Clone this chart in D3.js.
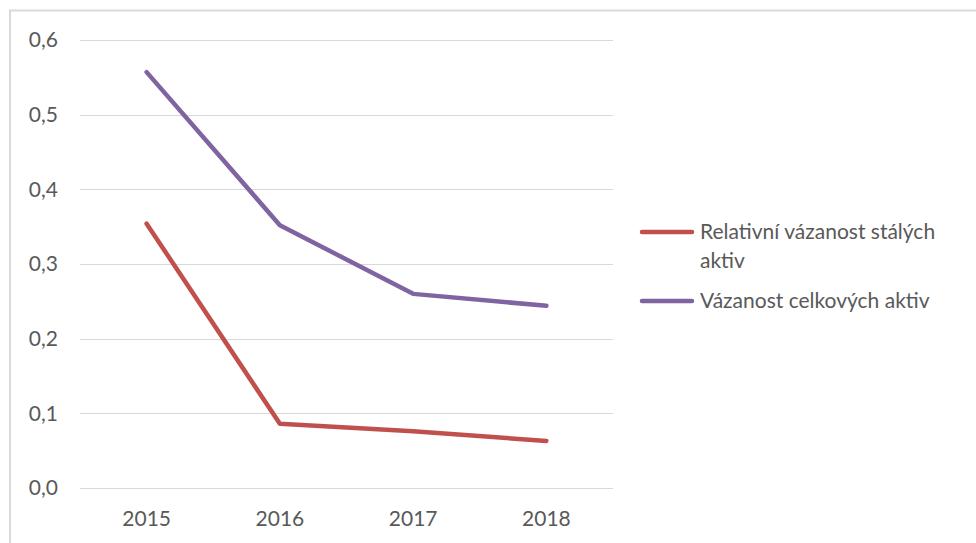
<!DOCTYPE html>
<html>
<head>
<meta charset="utf-8">
<script src="https://cdn.jsdelivr.net/npm/d3@7"></script>
<style>
  html, body { margin: 0; padding: 0; background: #fff; }
  svg { display: block; }
  text { font-family: Lato, "Open Sans", sans-serif; fill: #595959; }
</style>
</head>
<body>
<svg id="chart" width="976" height="543"></svg>
<script>
// Years on the category axis
const years = ["2015", "2016", "2017", "2018"];
// Series values
const relativniVazanost = [0.354, 0.086, 0.076, 0.063];
const vazanostCelkovych = [0.557, 0.352, 0.260, 0.244];
const seriesNames = ["Relativní vázanost stálých aktiv", "Vázanost celkových aktiv"];
const seriesColors = ["#C0504D", "#8064A2"];
// Value-axis ticks
const yTicks = [0, 0.1, 0.2, 0.3, 0.4, 0.5, 0.6];

const series = [
  { name: seriesNames[0], values: relativniVazanost, color: seriesColors[0] },
  { name: seriesNames[1], values: vazanostCelkovych, color: seriesColors[1] }
];

const svg = d3.select("#chart");
const fontSize = 21;

// Outer chart frame (runs off the right and bottom edges)
svg.append("rect")
  .attr("x", 10).attr("y", 10.5)
  .attr("width", 1000).attr("height", 600)
  .attr("fill", "#fff")
  .attr("stroke", "#d9d9d9")
  .attr("stroke-width", 2);

const plot = { left: 80, right: 613, top: 40, bottom: 488 };

const x = d3.scaleBand().domain(years).range([plot.left, plot.right]);
const y = d3.scaleLinear().domain([0, 0.6]).range([plot.bottom, plot.top]);

// Horizontal gridlines
svg.append("g")
  .selectAll("line")
  .data(yTicks)
  .join("line")
  .attr("x1", plot.left).attr("x2", plot.right)
  .attr("y1", d => Math.round(y(d)) + 0.5)
  .attr("y2", d => Math.round(y(d)) + 0.5)
  .attr("stroke", "#d9d9d9")
  .attr("stroke-width", 1);

// Value axis labels
const fmt = d => d3.format(".1f")(d).replace(".", ",");
const yAxis = d3.axisLeft(y).tickValues(yTicks).tickFormat(fmt).tickSize(0).tickPadding(0);
const yg = svg.append("g").attr("transform", `translate(58,0)`).call(yAxis);
yg.select(".domain").remove();
yg.selectAll("text")
  .attr("font-size", fontSize)
  .attr("fill", "#595959")
  .style("font-family", "Lato, 'Open Sans', sans-serif");

// Category axis labels
const xAxis = d3.axisBottom(x).tickSize(0).tickPadding(0);
const xg = svg.append("g").attr("transform", `translate(0,511)`).call(xAxis);
xg.select(".domain").remove();
xg.selectAll("text")
  .attr("font-size", fontSize)
  .attr("fill", "#595959")
  .style("font-family", "Lato, 'Open Sans', sans-serif");

// Lines
const line = d3.line()
  .x((d, i) => x(years[i]) + x.bandwidth() / 2)
  .y(d => y(d));

svg.append("g")
  .selectAll("path")
  .data(series)
  .join("path")
  .attr("d", d => line(d.values))
  .attr("fill", "none")
  .attr("stroke", d => d.color)
  .attr("stroke-width", 4.5)
  .attr("stroke-linecap", "round")
  .attr("stroke-linejoin", "round");

// Legend
const legend = svg.append("g");
const legendItems = [
  { color: seriesColors[0], lines: ["Relativní vázanost stálých", "aktiv"], y: 232 },
  { color: seriesColors[1], lines: [seriesNames[1]], y: 301 }
];
legendItems.forEach(item => {
  legend.append("line")
    .attr("x1", 642).attr("x2", 692)
    .attr("y1", item.y).attr("y2", item.y)
    .attr("stroke", item.color)
    .attr("stroke-width", 4.5)
    .attr("stroke-linecap", "round");
  const t = legend.append("text")
    .attr("x", 700).attr("y", item.y + 7)
    .attr("font-size", fontSize);
  item.lines.forEach((l, i) => {
    t.append("tspan").attr("x", 700).attr("dy", i === 0 ? 0 : 29).text(l);
  });
});
</script>
</body>
</html>
